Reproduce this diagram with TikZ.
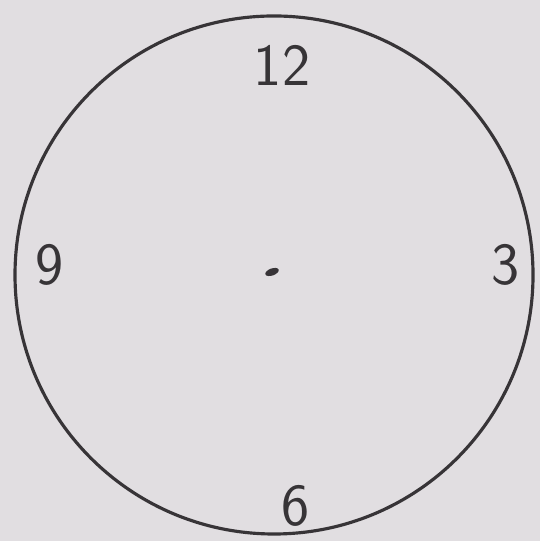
\documentclass[tikz,border=0pt]{standalone}
\definecolor{paper}{RGB}{225,222,225}
\definecolor{pencil}{RGB}{55,52,55}
\tikzset{hour/.style={font=\sffamily\fontsize{17}{20}\selectfont,text=pencil,inner sep=0pt}}
\begin{document}
\begin{tikzpicture}
% Paper background fixes the size
\fill[paper] (0,0) rectangle (5.40,5.41);
\useasboundingbox (0,0) rectangle (5.40,5.41);
% Clock face
\draw[pencil,line width=0.9pt] (2.74,2.66) circle (2.59);
% Centre dot
\fill[pencil,rotate around={20:(2.72,2.69)}] (2.72,2.69) ellipse (0.07 and 0.035);
% Hour marks
\node[hour] (twelve) at (2.82,4.76) {12};
\node[hour] (three) at (5.06,2.76) {3};
\node[hour] (six) at (2.96,0.35) {6};
\node[hour] (nine) at (0.50,2.76) {9};
\end{tikzpicture}
\end{document}
